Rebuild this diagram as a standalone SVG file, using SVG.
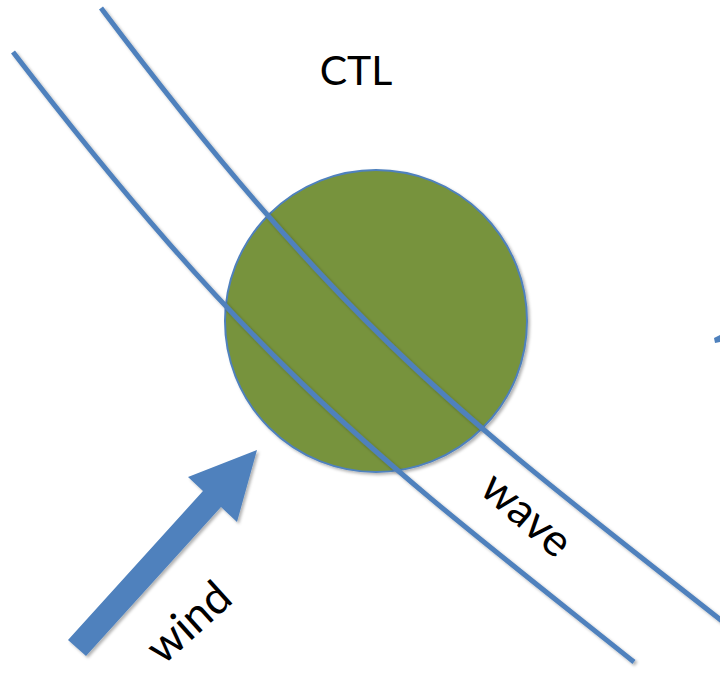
<svg xmlns="http://www.w3.org/2000/svg" width="720" height="676" viewBox="0 0 720 676">
  <defs>
    <filter id="sh" x="-20%" y="-20%" width="140%" height="140%">
      <feDropShadow dx="2" dy="2" stdDeviation="1.5" flood-color="#000" flood-opacity="0.3"/>
    </filter>
  </defs>
  <style>
    .wave { fill: none; stroke: #4F81BD; stroke-width: 5; }
    .lbl { font-family: Lato, "Liberation Sans", sans-serif; font-size: 41px; fill: #000; }
    .big { font-size: 45px; }
  </style>
  <rect width="720" height="676" fill="#fff"/>
  <g id="ctl-node">
    <circle cx="376" cy="321" r="151" fill="#77933C" stroke="#4F81BD" stroke-width="2" filter="url(#sh)"/>
  </g>
  <g id="connectors" filter="url(#sh)">
    <path class="wave" d="M13,52 C262,376 385,463 634,662"/>
    <path class="wave" d="M101,8 C351,340 470,422 722,621"/>
  </g>
  <g id="wind-arrow" filter="url(#sh)">
    <polygon points="68,640 203,491 188,477 257,450 237,522 221,507 86,656" fill="#4F81BD"/>
  </g>
  <g id="edge-stub">
    <polygon points="714,338 720,335 720,342 715,343" fill="#4F81BD"/>
  </g>
  <g id="labels">
    <text class="lbl" x="356" y="85" text-anchor="middle">CTL</text>
    <text class="lbl big" transform="translate(478,492) rotate(41)">wave</text>
    <text class="lbl big" transform="translate(163,666) rotate(-42)">wind</text>
  </g>
</svg>
